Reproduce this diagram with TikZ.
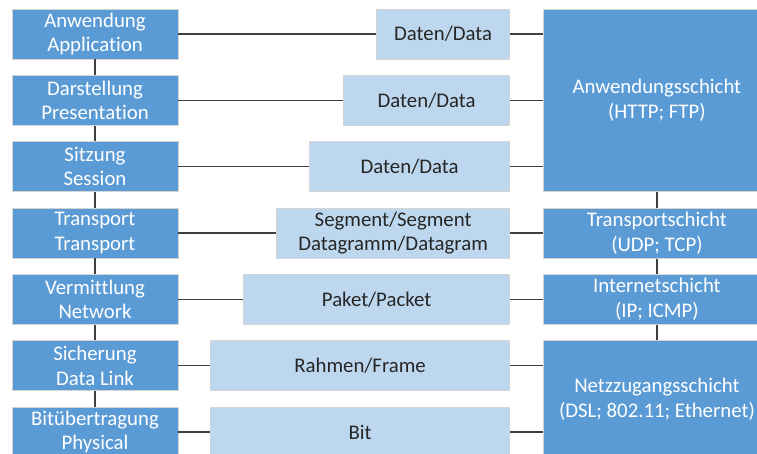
\documentclass[tikz,border=0pt]{standalone}
\usepackage{fontspec}
\setmainfont{Carlito}[Ligatures=NoCommon]
\definecolor{osiblue}{HTML}{5B9BD5}
\definecolor{pdublue}{HTML}{BDD7EE}
\definecolor{boxedge}{HTML}{D4D4D4}
\definecolor{linkgray}{HTML}{404040}
\definecolor{pdutext}{HTML}{262626}
\tikzset{
  layer/.style={fill=osiblue, draw=boxedge, line width=0.8pt, text=white, align=center,
    inner sep=0pt, minimum height=50pt, font=\fontsize{20.8}{24.5}\selectfont},
  pdu/.style={layer, fill=pdublue, text=pdutext},
  link/.style={draw=linkgray, line width=1.2pt}
}
\begin{document}
\begin{tikzpicture}[x=1pt,y=-1pt]
\useasboundingbox (0,0) rectangle (757,454);
\clip (0,0) rectangle (757,454);
% OSI layers (left)
\foreach \i/\de/\en in {1/Anwendung/Application,2/Darstellung/Presentation,3/Sitzung/Session,
  4/Transport/Transport,5/Vermittlung/Network,6/Sicherung/Data Link,7/Bitübertragung/Physical} {
  \node[layer, minimum width=166pt] (osi\i) at (95,{34+66.33*(\i-1)}) {\de\\\en};
}
% data units (middle), right edge aligned
\foreach \i/\w/\txt in {1/133/{Daten/Data},2/166/{Daten/Data},3/200/{Daten/Data},
  4/233/{Segment/Segment\\Datagramm/Datagram},5/266/{Paket/Packet},6/299/{Rahmen/Frame},7/299/{Bit}} {
  \node[pdu, minimum width=\w pt, anchor=east] (pdu\i) at (510,{34+66.33*(\i-1)}) {\txt};
}
% TCP/IP layers (right)
\node[layer, minimum width=227pt, minimum height=182pt, anchor=north west] (app) at (543,9) {Anwendungsschicht\\(HTTP; FTP)};
\node[layer, minimum width=227pt, anchor=north west] (trans) at (543,208) {Transportschicht\\(UDP; TCP)};
\node[layer, minimum width=227pt, anchor=north west] (inet) at (543,274) {Internetschicht\\(IP; ICMP)};
\node[layer, minimum width=227pt, minimum height=118pt, anchor=north west] (netz) at (543,340) {Netzzugangsschicht\\(DSL; 802.11; Ethernet)};
% vertical links
\foreach \i/\j in {1/2,2/3,3/4,4/5,5/6,6/7} {
  \draw[link] (osi\i.south) -- (osi\j.north);
}
\draw[link] (app.south) -- (trans.north);
\draw[link] (trans.south) -- (inet.north);
\draw[link] (inet.south) -- (netz.north);
% horizontal links
\foreach \i/\r in {1/app,2/app,3/app,4/trans,5/inet,6/netz,7/netz} {
  \draw[link] (osi\i.east) -- (pdu\i.west);
  \draw[link] (pdu\i.east) -- (pdu\i.east -| \r.west);
}
\end{tikzpicture}
\end{document}
